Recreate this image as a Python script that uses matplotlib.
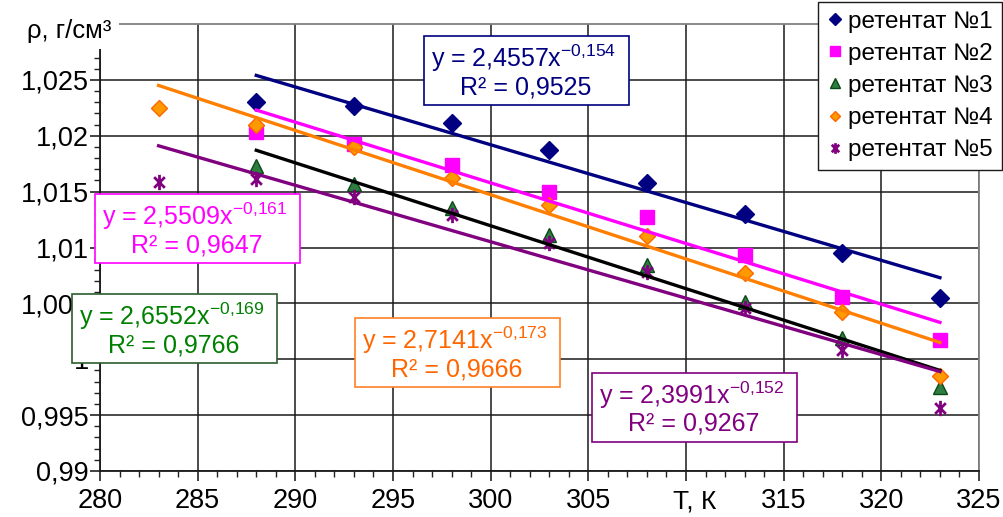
import numpy as np
import matplotlib.pyplot as plt
from matplotlib.patches import Rectangle
from matplotlib.path import Path
from matplotlib.ticker import MultipleLocator, FuncFormatter

plt.rcParams['font.family'] = ['Liberation Sans', 'DejaVu Sans']
plt.rcParams['mathtext.fontset'] = 'custom'
plt.rcParams['mathtext.rm'] = 'Liberation Sans'
plt.rcParams['mathtext.it'] = 'Liberation Sans'
plt.rcParams['mathtext.default'] = 'regular'

# temperature, K
T = [283, 288, 293, 298, 303, 308, 313, 318, 323]

# density of retentates, g/cm3 (nan = no measurement)
rho1 = [np.nan, 1.0230, 1.0227, 1.0211, 1.0187, 1.0158, 1.0130, 1.0095, 1.0055]
rho2 = [np.nan, 1.0203, 1.0193, 1.0174, 1.0150, 1.0127, 1.0093, 1.0056, 1.0017]
rho3 = [np.nan, 1.0173, 1.0157, 1.0135, 1.0111, 1.0084, 1.0051, 1.0019, 0.9975]
rho4 = [1.0225, 1.0210, 1.0190, 1.0162, 1.0138, 1.0110, 1.0077, 1.0042, 0.9985]
rho5 = [1.0159, 1.0161, 1.0145, 1.0129, 1.0104, 1.0078, 1.0046, 1.0008, 0.9956]

# trend lines (start / end)
trend_x1 = [288, 323]
trend_y1 = [1.0254, 1.0073]
trend_x2 = [288, 323]
trend_y2 = [1.0223, 1.0033]
trend_x3 = [288, 323]
trend_y3 = [1.0187, 0.9990]
trend_x4 = [283, 323]
trend_y4 = [1.0245, 1.0015]
trend_x5 = [283, 323]
trend_y5 = [1.0191, 0.9989]

names = ['ретентат №1', 'ретентат №2', 'ретентат №3', 'ретентат №4', 'ретентат №5']
coefs = ['2,4557', '2,5509', '2,6552', '2,7141', '2,3991']
powers = ['-0{,}154', '-0{,}161', '-0{,}169', '-0{,}173', '-0{,}152']
r2 = ['0,9525', '0,9647', '0,9766', '0,9666', '0,9267']

W, H = 1004, 517


def fx(px):
    return px / W


def fy(py):
    return 1 - py / H


# asterisk marker like in Excel: X plus vertical bar
star = Path([(-0.7, -0.7), (0.7, 0.7), (-0.7, 0.7), (0.7, -0.7), (0, -1), (0, 1)],
            [Path.MOVETO, Path.LINETO, Path.MOVETO, Path.LINETO, Path.MOVETO, Path.LINETO])

fig = plt.figure(figsize=(W / 100, H / 100), dpi=100)
ax = fig.add_axes([fx(100), fy(471), 879 / W, 447 / H])

h1, = ax.plot(T, rho1, ls='none', marker='D', ms=9, color='#000080', zorder=3)
h2, = ax.plot(T, rho2, ls='none', marker='s', ms=10, color='#FF00FF', zorder=3)
h3, = ax.plot(T, rho3, ls='none', marker='^', ms=10, mfc='#2f7d3f', mec='#0a4a18', zorder=3)
h4, = ax.plot(T, rho4, ls='none', marker='D', ms=8, mfc='#FF9900', mec='#FF6600', zorder=3)
h5, = ax.plot(T, rho5, ls='none', marker=star, ms=11, mew=2, color='#800080', zorder=3)

lw = 2.4
ax.plot(trend_x1, trend_y1, color='#000080', lw=lw, zorder=4)
ax.plot(trend_x2, trend_y2, color='#FF00FF', lw=lw, zorder=4)
ax.plot(trend_x3, trend_y3, color='black', lw=lw, zorder=4)
ax.plot(trend_x4, trend_y4, color='#FF7F00', lw=lw, zorder=4)
ax.plot(trend_x5, trend_y5, color='#800080', lw=lw, zorder=4)

ax.set_xlim(280, 325)
ax.set_ylim(0.99, 1.03)
ax.set_xticks(np.arange(280, 326, 5))
ax.set_yticks(np.arange(0.99, 1.0251, 0.005))
ax.xaxis.set_minor_locator(MultipleLocator(1))
ax.yaxis.set_minor_locator(MultipleLocator(0.001))
comma = FuncFormatter(lambda v, p: ('%g' % round(v, 4)).replace('.', ','))
# the 310 label is hidden under the axis title in the original
ax.xaxis.set_major_formatter(FuncFormatter(lambda v, p: '' if round(v) == 310 else '%g' % v))
ax.yaxis.set_major_formatter(comma)
ax.tick_params(which='major', direction='out', length=7, width=1.2, labelsize=19.5, color='#222222')
ax.tick_params(axis='x', which='major', pad=5)
ax.tick_params(axis='y', which='major', pad=1)
ax.tick_params(which='minor', direction='out', length=4, width=1.0, color='#222222')
ax.grid(True, which='major', color='#1a1a1a', lw=1.1)
ax.set_axisbelow(True)
for s in ['left', 'bottom']:
    ax.spines[s].set_color('#1a1a1a')
    ax.spines[s].set_linewidth(1.3)
for s in ['top', 'right']:
    ax.spines[s].set_color('#808080')
    ax.spines[s].set_linewidth(1.3)

leg = ax.legend([h1, h2, h3, h4, h5], names, loc='upper left',
                bbox_to_anchor=(fx(818), fy(2)), bbox_transform=fig.transFigure,
                fontsize=17.5, markerscale=0.7, handlelength=0.7, handletextpad=0.2,
                labelspacing=0.42, borderpad=0.35, borderaxespad=0, frameon=True,
                fancybox=False, framealpha=1)
leg.get_frame().set_edgecolor('#1a1a1a')
leg.get_frame().set_linewidth(1.0)
leg.set_zorder(10)

# equation boxes: left, top in pixels, text colour, border colour
boxes = [(424, 36, '#000080', '#000080'),
         (95, 194, '#FF00FF', '#FF00FF'),
         (72, 294, '#008000', '#2e5e2e'),
         (355, 318, '#FF6600', '#FF7F27'),
         (592, 373, '#800080', '#800080')]
for i, (bx, by, tc, ec) in enumerate(boxes):
    fig.add_artist(Rectangle((fx(bx), fy(by + 69)), 205 / W, 69 / H, transform=fig.transFigure,
                             facecolor='white', edgecolor=ec, lw=1.2, zorder=5))
    fig.text(fx(bx + 100), fy(by + 22), 'y = ' + coefs[i] + 'x$^{' + powers[i] + '}$',
             color=tc, fontsize=18, ha='center', va='center', zorder=6)
    fig.text(fx(bx + 102), fy(by + 51), 'R² = ' + r2[i],
             color=tc, fontsize=18, ha='center', va='center', zorder=6)

# axis titles with white background over the frame
fig.add_artist(Rectangle((0, fy(49)), fx(119), 49 / H, transform=fig.transFigure,
                         facecolor='white', edgecolor='none', zorder=5))
fig.text(fx(69), fy(31), 'ρ, г/см³', fontsize=18.5, ha='center', va='center', zorder=6)
fig.text(fx(695), fy(501), 'Т, К', fontsize=19, ha='center', va='center', zorder=6)

fig.savefig('out.png', dpi=100)
